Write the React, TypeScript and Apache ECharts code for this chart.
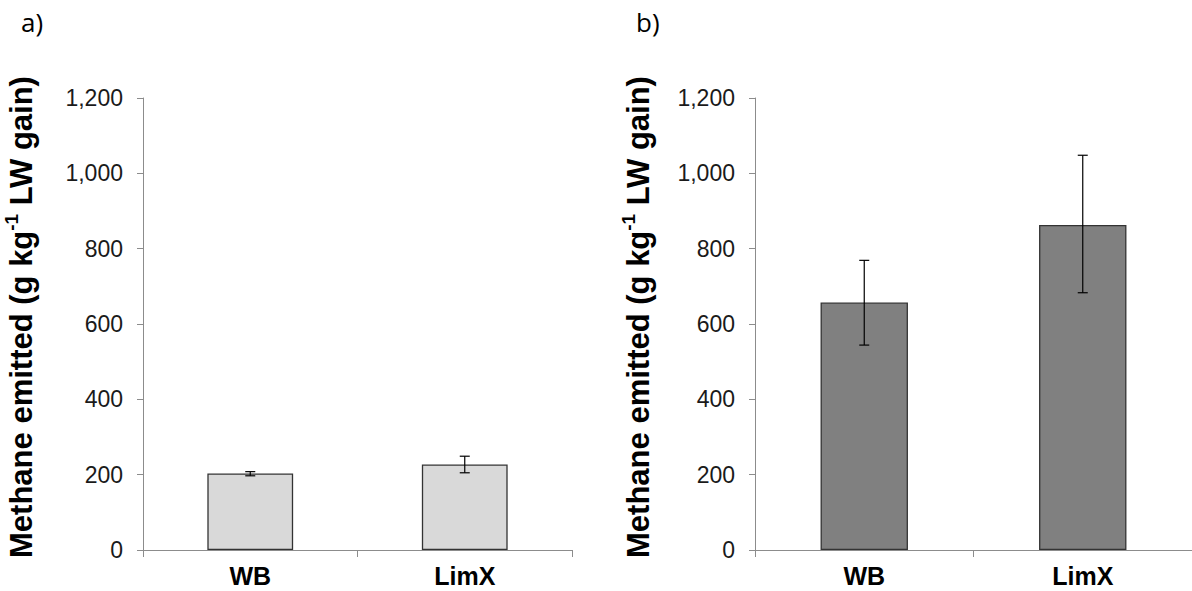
import React, { useEffect, useRef } from "react";
import * as echarts from "echarts";

const categories = ["WB", "LimX"];
const yTicks = { min: 0, max: 1200, interval: 200 };

// Panel a
const meanA = [203, 227];
const lowA = [197, 205];
const highA = [208, 249];

// Panel b
const meanB = [657, 863];
const lowB = [544, 683];
const highB = [769, 1048];

const panelLabels = ["a)", "b)"];
const yTitleParts = ["Methane emitted (g kg", "-1", " LW gain)"];

const FONT = "'Liberation Sans', Arial, sans-serif";

export default function App() {
  const ref = useRef<HTMLDivElement>(null);
  useEffect(() => {
    if (!ref.current) return;
    const chart = echarts.init(ref.current, null, { renderer: "svg" });

    const grids = [
      { left: 143, top: 98, width: 429, height: 452 },
      { left: 755, top: 98, width: 442, height: 452 },
    ];

    const xAxis = grids.map((_, i) => ({
      type: "category",
      gridIndex: i,
      data: categories,
      boundaryGap: true,
      axisLine: { lineStyle: { color: "#8c8c8c", width: 1 } },
      axisTick: { show: true, length: 7, lineStyle: { color: "#8c8c8c" } },
      axisLabel: {
        color: "#000",
        fontFamily: FONT,
        fontWeight: "bold",
        fontSize: 25,
        lineHeight: 24,
        margin: 14,
      },
    }));

    const yAxis = grids.map((_, i) => ({
      type: "value",
      gridIndex: i,
      min: yTicks.min,
      max: yTicks.max,
      interval: yTicks.interval,
      splitLine: { show: false },
      axisLine: { show: true, lineStyle: { color: "#8c8c8c", width: 1 } },
      axisTick: { show: true, length: 6, lineStyle: { color: "#8c8c8c" } },
      axisLabel: {
        color: "#1a1a1a",
        fontFamily: FONT,
        fontSize: 23,
        margin: 20,
        formatter: (v: number) => v.toLocaleString("en-US"),
      },
      name: `{t|${yTitleParts[0]}}{s|${yTitleParts[1]}}{t|${yTitleParts[2]}}`,
      nameLocation: "middle",
      nameRotate: 90,
      nameGap: i === 0 ? 106 : 101,
      nameTextStyle: {
        padding: [0, 0, 0, 14],
        rich: {
          t: {
            fontSize: 31,
            fontWeight: "bold",
            fontFamily: FONT,
            color: "#000",
            lineHeight: 35,
            verticalAlign: "bottom",
          },
          s: {
            fontSize: 19,
            fontWeight: "bold",
            fontFamily: FONT,
            color: "#000",
            lineHeight: 35,
            verticalAlign: "top",
          },
        },
      },
    }));

    const errRender = (params: any, api: any) => {
      const x = api.value(0);
      const lo = api.coord([x, api.value(1)]);
      const hi = api.coord([x, api.value(2)]);
      const hw = 5;
      const style = { stroke: "#000", lineWidth: 1.2 };
      return {
        type: "group",
        children: [
          { type: "line", shape: { x1: lo[0], y1: lo[1], x2: hi[0], y2: hi[1] }, style },
          { type: "line", shape: { x1: hi[0] - hw, y1: hi[1], x2: hi[0] + hw, y2: hi[1] }, style },
          { type: "line", shape: { x1: lo[0] - hw, y1: lo[1], x2: lo[0] + hw, y2: lo[1] }, style },
        ],
      };
    };

    const panels = [
      { mean: meanA, low: lowA, high: highA, color: "#d9d9d9" },
      { mean: meanB, low: lowB, high: highB, color: "#808080" },
    ];

    const series: any[] = [];
    panels.forEach((p, i) => {
      series.push({
        type: "bar",
        xAxisIndex: i,
        yAxisIndex: i,
        data: p.mean,
        barWidth: "40%",
        itemStyle: { color: p.color, borderColor: "#333", borderWidth: 1.3 },
      });
      series.push({
        type: "custom",
        xAxisIndex: i,
        yAxisIndex: i,
        renderItem: errRender,
        data: p.mean.map((_, k) => [k, p.low[k], p.high[k]]),
        z: 10,
      });
    });

    chart.setOption({
      animation: false,
      backgroundColor: "#fff",
      grid: grids,
      xAxis,
      yAxis,
      series,
      graphic: [
        {
          type: "text",
          left: 21,
          top: 9,
          style: { text: panelLabels[0], fontSize: 26, fontFamily: "'Open Sans', sans-serif", fill: "#000" },
        },
        {
          type: "text",
          left: 636,
          top: 9,
          style: { text: panelLabels[1], fontSize: 26, fontFamily: "'Open Sans', sans-serif", fill: "#000" },
        },
      ],
    });
    return () => chart.dispose();
  }, []);
  return (
    <div
      ref={ref}
      style={{ position: "absolute", left: 0, top: 0, width: 1192, height: 591 }}
    />
  );
}
